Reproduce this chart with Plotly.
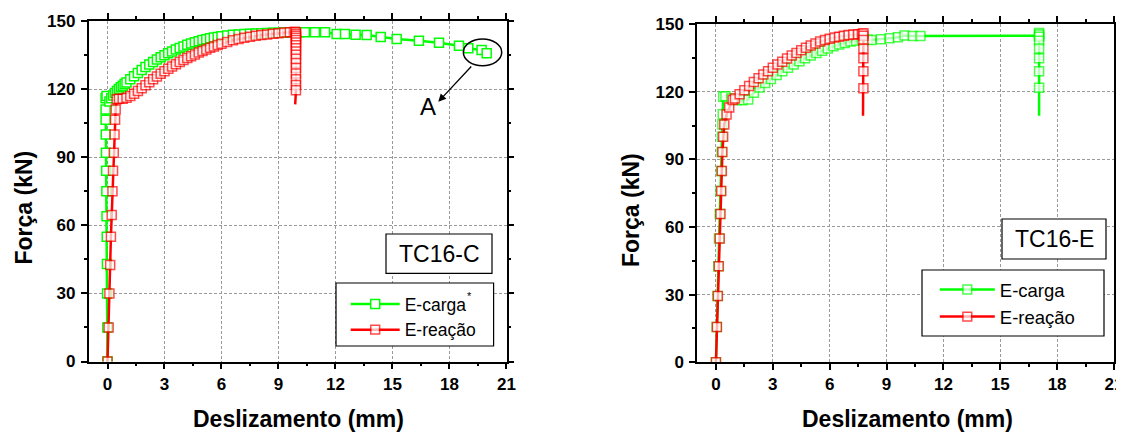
import plotly.graph_objects as go

# ---------------- data: TC16-C ----------------
c_carga_x = [0, -0.01, -0.02, -0.03, -0.04, -0.05, -0.06, -0.07, -0.08, -0.09, -0.1, -0.1, -0.1, -0.05,
             0.1, 0.2, 0.3, 0.4, 0.5, 0.6, 0.7, 0.8, 0.9, 1.0, 1.2, 1.4, 1.6, 1.8, 2.0, 2.2, 2.4, 2.6, 2.8,
             3.0, 3.2, 3.4, 3.6, 3.8, 4.0, 4.2, 4.4, 4.6, 4.8, 5.0, 5.2, 5.4, 5.6, 5.8, 6.0, 6.3, 6.6, 6.9,
             7.2, 7.5, 7.8, 8.1, 8.4, 8.7, 9.0, 9.3, 9.6, 9.9, 10.1,
             10.39, 10.92, 11.45, 12.06, 12.5, 13.06, 13.64, 14.38, 15.22, 16.39, 17.45, 18.5, 18.99, 19.69, 19.96]
c_carga_y = [0, 15, 30, 43, 55, 64, 75, 84, 92, 100, 106.5, 111, 116, 117,
             114.5, 116.0, 117.2, 118.3, 119.2, 120.0, 120.8, 121.5, 122.2, 122.9, 124.3, 125.7, 127.1, 128.4,
             129.7, 130.9, 132.0, 133.0, 134.0, 134.9, 135.8, 136.6, 137.4, 138.1, 138.8, 139.5, 140.1, 140.6,
             141.1, 141.6, 142.0, 142.4, 142.7, 143.0, 143.3, 143.6, 143.9, 144.1, 144.3, 144.4, 144.5, 144.6,
             144.7, 144.8, 144.8, 144.9, 144.9, 145.0, 145.0,
             145.0, 145.0, 145.0, 144.3, 144.3, 144.0, 143.8, 143.0, 142.1, 141.3, 140.4, 139.1, 138.0, 137.2, 135.8]

c_reacao_x = [0, 0.06, 0.1, 0.14, 0.18, 0.22, 0.26, 0.29, 0.33, 0.37, 0.4, 0.43, 0.48,
              0.6, 0.8, 1.0, 1.2, 1.4, 1.6, 1.8, 2.0, 2.2, 2.4, 2.6, 2.8, 3.0, 3.2, 3.4, 3.6, 3.8, 4.0, 4.2,
              4.4, 4.6, 4.8, 5.0, 5.2, 5.4, 5.6, 5.8, 6.0, 6.3, 6.6, 6.9, 7.2, 7.5, 7.8, 8.1, 8.4, 8.7, 9.0,
              9.3, 9.6, 9.85,
              9.92, 9.92, 9.92, 9.92, 9.92, 9.92, 9.92, 9.92, 9.92, 9.92, 9.92, 9.92, 9.92, 9.92, 9.92,
              9.92, 9.92, 9.88]
c_reacao_y = [0, 15, 30, 42.5, 55, 64.5, 75, 84, 92, 100, 106.5, 111, 115.5,
              115.8, 115.8, 116.2, 117.0, 118.0, 119.2, 120.4, 121.7, 123.0, 124.3, 125.6, 126.8, 127.9, 129.0,
              130.0, 131.0, 131.9, 132.8, 133.7, 134.5, 135.3, 136.1, 136.8, 137.5, 138.2, 138.8, 139.4, 140.0,
              140.8, 141.5, 142.1, 142.6, 143.1, 143.5, 143.8, 144.1, 144.4, 144.6, 144.9, 145.1, 145.3,
              145.0, 144.3, 143.5, 142.6, 141.6, 140.5, 139.3, 138.0, 136.6, 135.1, 133.4, 131.5, 129.3,
              126.9, 124.3, 121.8, 119.5, 113.3]

# ---------------- data: TC16-E ----------------
e_carga_x = [0, 0.04, 0.08, 0.12, 0.16, 0.2, 0.24, 0.27, 0.3, 0.32, 0.34, 0.36, 0.38,
             0.5, 0.8, 1.1, 1.4, 1.7, 2.0, 2.3, 2.6, 2.9, 3.2, 3.5, 3.8, 4.1, 4.4, 4.7, 5.0, 5.3, 5.6, 5.9,
             6.2, 6.5, 6.8, 7.1, 7.4, 7.7, 8.0, 8.2, 8.7, 9.16, 9.6, 9.95, 10.38, 10.79,
             17.05, 17.05, 17.05, 17.05, 17.05, 17.05, 17.05, 17.05, 17.05, 17.05]
e_carga_y = [0, 15.7, 29.4, 42.6, 54.9, 65.8, 76, 84.8, 93.3, 100, 105.5, 110, 117.8,
             118.0, 117.0, 116.3, 116.2, 116.5, 119.5, 121.8, 123.8, 125.6, 127.4, 129.1, 130.6, 132.1,
             133.5, 134.8, 136.0, 137.1, 138.2, 139.2, 140.1, 140.9, 141.6, 142.2, 142.6, 142.9, 143.1,
             142.9, 143.2, 143.7, 144.1, 144.9, 144.7, 144.7,
             144.8, 146.0, 145.4, 144.4, 142.6, 139.2, 134.8, 129.1, 121.7, 109.3]

e_reacao_x = [0, 0.05, 0.1, 0.15, 0.2, 0.24, 0.28, 0.31, 0.34, 0.38, 0.44, 0.56, 0.7, 0.88,
              1.0, 1.25, 1.5, 1.75, 2.0, 2.25, 2.5, 2.75, 3.0, 3.25, 3.5, 3.75, 4.0, 4.25, 4.5, 4.75, 5.0,
              5.25, 5.5, 5.75, 6.0, 6.25, 6.5, 6.75, 7.0, 7.25, 7.5, 7.7,
              7.78, 7.78, 7.78, 7.78, 7.78, 7.78, 7.78, 7.76]
e_reacao_y = [0, 15.7, 29.4, 42.6, 54.9, 65.8, 76, 84.8, 93.3, 100, 105.5, 109.9, 113, 116.3,
              117.0, 118.9, 120.6, 122.5, 124.3, 126.0, 127.6, 129.1, 130.6, 132.0, 133.3, 134.7, 136.0,
              137.2, 138.4, 139.5, 140.5, 141.4, 142.2, 142.9, 143.5, 144.0, 144.4, 144.8, 145.1, 145.3,
              145.5, 145.6,
              145.9, 144.8, 142.9, 139.2, 134.8, 129.1, 121.5, 109.3]

x_ticks = [0, 3, 6, 9, 12, 15, 18, 21]
y_ticks = [0, 30, 60, 90, 120, 150]

# ---------------- styling ----------------
FONT = "Liberation Sans, Arial, sans-serif"
GREEN = "#00FF00"
RED = "#FF0000"
OX, OY = 8, 8              # page body margin of the html page
W, H = 1124, 432 - OY


def px_x(p):
    return (p - OX) / W


def px_y(p):
    return 1 - (p - OY) / H


def sizes(n, s=9):
    return [s] * (n - 1) + [0]


fig = go.Figure()


def add_series(x, y, name, color, xa, ya, legend, last_hidden):
    n = len(x)
    fig.add_trace(go.Scatter(
        x=x, y=y, name=name, mode="lines+markers",
        line=dict(color=color, width=2.5),
        marker=dict(symbol="square", size=sizes(n) if last_hidden else 9, color="white",
                    line=dict(color=color, width=1.5)),
        xaxis=xa, yaxis=ya, legend=legend))


add_series(c_carga_x, c_carga_y, "E-carga", GREEN, "x", "y", "legend", False)
add_series(c_reacao_x, c_reacao_y, "E-reação", RED, "x", "y", "legend", True)
add_series(e_carga_x, e_carga_y, "E-carga", GREEN, "x2", "y2", "legend2", True)
add_series(e_reacao_x, e_reacao_y, "E-reação", RED, "x2", "y2", "legend2", True)

axis_common = dict(
    showline=True, linecolor="black", linewidth=1.5, mirror="ticks",
    ticks="outside", ticklen=6, tickwidth=1.5, tickcolor="black",
    showgrid=True, gridcolor="#9a9a9a", gridwidth=1, griddash="3px,2px",
    zeroline=False, automargin=False, ticklabeloverflow="allow",
    tickfont=dict(family=FONT, size=17, color="black", weight="bold"),
)
minor_x = dict(ticks="outside", ticklen=3, tickwidth=1.5, tickcolor="black", showgrid=False, dtick=1.5, tick0=0)
minor_y = dict(ticks="outside", ticklen=3, tickwidth=1.5, tickcolor="black", showgrid=False, dtick=15, tick0=0)

fig.update_layout(
    width=W, height=H, margin=dict(l=0, r=0, t=0, b=0),
    paper_bgcolor="white", plot_bgcolor="white", showlegend=True,
    xaxis=dict(domain=[px_x(88.5), px_x(506.5)], range=[-1, 21.002], anchor="y",
               tickvals=x_ticks, minor=minor_x, **axis_common),
    yaxis=dict(domain=[px_y(361.5), px_y(21)], range=[0, 150.01], anchor="x",
               tickvals=y_ticks, minor=minor_y, ticklabelstandoff=2, **axis_common),
    xaxis2=dict(domain=[px_x(697), px_x(1114)], range=[-1, 21.002], anchor="y2",
                tickvals=x_ticks, minor=minor_x, **axis_common),
    yaxis2=dict(domain=[px_y(362.3), px_y(24)], range=[0, 150.01], anchor="x2",
                tickvals=y_ticks, minor=minor_y, ticklabelstandoff=2, **axis_common),
    legend=dict(x=px_x(345.7), y=px_y(286), xanchor="left", yanchor="top",
                bgcolor="rgba(0,0,0,0)", borderwidth=0, itemwidth=49,
                font=dict(family=FONT, size=17.5, color="black")),
    legend2=dict(x=px_x(934.8), y=px_y(271), xanchor="left", yanchor="top",
                 bgcolor="rgba(0,0,0,0)", borderwidth=0, itemwidth=55,
                 font=dict(family=FONT, size=18.5, color="black")),
)

# boxes (legend frames and sample labels)
boxes = [(336, 283, 493.6, 346), (922, 270, 1104, 336), (386, 234, 492, 273.3), (1002, 219, 1106, 259)]
for x0, y0, x1, y1 in boxes:
    fig.add_shape(type="rect", xref="paper", yref="paper", x0=px_x(x0), x1=px_x(x1),
                  y0=px_y(y1), y1=px_y(y0), fillcolor="white", line=dict(color="black", width=1.2),
                  layer="above")

# ellipse around point A
fig.add_shape(type="circle", xref="x", yref="y", x0=18.73, x1=20.75, y0=130.3, y1=142.1,
              line=dict(color="black", width=1.5), layer="above")

ann = []
ann.append(dict(xref="x", yref="y", axref="x", ayref="y", x=17.41, y=114.4, ax=19.22, ay=130.6,
                text="", showarrow=True, arrowhead=2, arrowsize=1.2, arrowwidth=1.3, arrowcolor="black",
                standoff=0, startstandoff=0))
ann.append(dict(xref="x", yref="y", x=16.88, y=112.5, text="A", showarrow=False,
                xanchor="center", yanchor="middle",
                font=dict(family=FONT, size=24, color="black")))
ann.append(dict(xref="paper", yref="paper", x=px_x(439), y=px_y(254), text="TC16-C", showarrow=False,
                xanchor="center", yanchor="middle",
                font=dict(family=FONT, size=23, color="black")))
ann.append(dict(xref="paper", yref="paper", x=px_x(1054), y=px_y(239), text="TC16-E", showarrow=False,
                xanchor="center", yanchor="middle",
                font=dict(family=FONT, size=23, color="black")))
ann.append(dict(xref="paper", yref="paper", x=px_x(469), y=px_y(296), text="*", showarrow=False,
                xanchor="center", yanchor="middle",
                font=dict(family=FONT, size=11, color="black")))
title_font = dict(family=FONT, size=23, color="black", weight="bold")
for tx, ty, txt, ang in [(298.5, 419, "Deslizamento (mm)", 0), (907.5, 419, "Deslizamento (mm)", 0),
                         (24, 207.5, "Força (kN)", -90), (631, 210, "Força (kN)", -90)]:
    ann.append(dict(xref="paper", yref="paper", x=px_x(tx), y=px_y(ty), text=txt, textangle=ang,
                    showarrow=False, xanchor="center", yanchor="middle", font=title_font))
fig.update_layout(annotations=ann)

fig.write_html("out.html")
